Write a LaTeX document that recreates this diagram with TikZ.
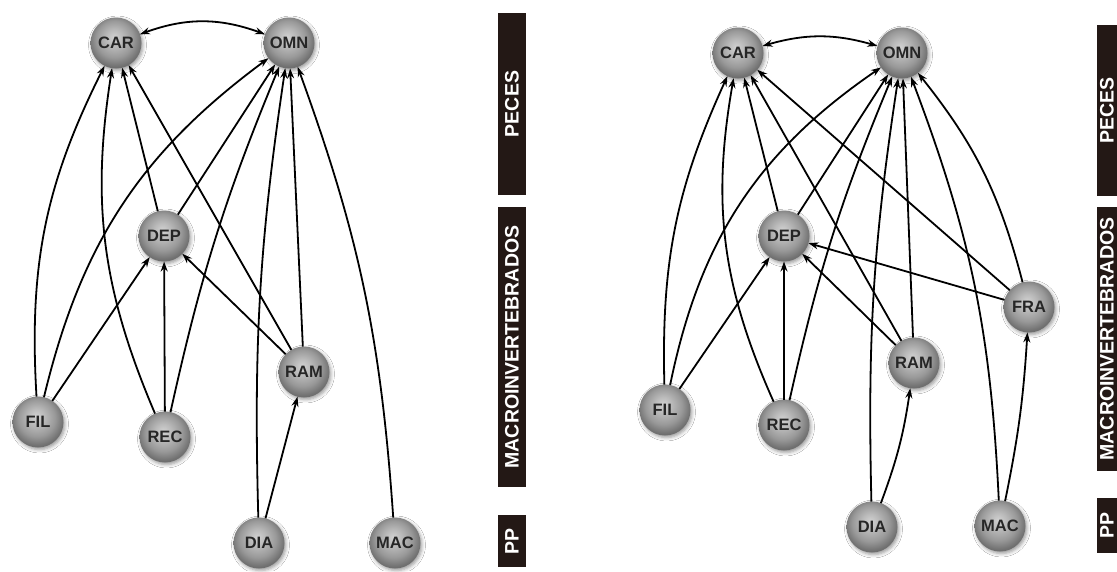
\documentclass[tikz,border=0pt]{standalone}
\usepackage{fontspec}
\setmainfont{Liberation Sans}
\usetikzlibrary{arrows.meta,shadows.blur}
\pgfdeclareradialshading{greyball}{\pgfqpoint{-2bp}{6bp}}{%
  color(0bp)=(black!18); color(8bp)=(black!27); color(18bp)=(black!40);
  color(26bp)=(black!56); color(33bp)=(black!62); color(50bp)=(black!62)}
\definecolor{barblack}{RGB}{35,24,21}
\tikzset{
  ball/.style={circle, minimum size=51pt, inner sep=0pt, outer sep=0pt,
    shading=greyball,
    blur shadow={shadow xshift=1.5pt, shadow yshift=-2pt, shadow blur radius=3.5pt, shadow opacity=40},
    font=\fontsize{16.5}{17}\selectfont\bfseries, text=black!85},
  arr/.style={-{Stealth[length=10pt,width=7pt]}, line width=1.8pt, black},
  biarr/.style={{Stealth[length=10pt,width=7pt]}-{Stealth[length=10pt,width=7pt]}, line width=1.8pt, black},
  bar/.style={rectangle, fill=barblack, text=white, rotate=90, inner sep=0pt,
    font=\fontsize{19.5}{20}\selectfont\bfseries}
}
\begin{document}
\begin{tikzpicture}[x=1pt,y=1pt]
\useasboundingbox[fill=white] (0,0) rectangle (1117,-571);

% ---------- left panel ----------
\node[ball] (car1) at (116,-43) {CAR};
\node[ball] (omn1) at (289,-43) {OMN};
\node[ball] (dep1) at (164,-236) {DEP};
\node[ball] (fil1) at (38,-422) {FIL};
\node[ball] (rec1) at (165,-437) {REC};
\node[ball] (ram1) at (304,-372) {RAM};
\node[ball] (dia1) at (259,-543) {DIA};
\node[ball] (mac1) at (395,-543) {MAC};

\draw[biarr] (car1) to[bend left=20] (omn1);
\draw[arr] (fil1) to[bend left=15] (car1);
\draw[arr] (fil1) to[bend left=20] (omn1);
\draw[arr] (fil1) -- (dep1);
\draw[arr] (rec1) to[bend left=16] (car1);
\draw[arr] (rec1) -- (dep1);
\draw[arr] (rec1) to[bend left=5] (omn1);
\draw[arr] (dep1) -- (car1);
\draw[arr] (dep1) -- (omn1);
\draw[arr] (ram1) -- (car1);
\draw[arr] (ram1) -- (dep1);
\draw[arr] (ram1) -- (omn1);
\draw[arr] (dia1) to[bend left=5] (omn1);
\draw[arr] (dia1) -- (ram1);
\draw[arr] (mac1) to[bend right=8] (omn1);

\node[bar, minimum width=182pt, minimum height=28pt] (peces1) at (512,-104) {PECES};
\node[bar, minimum width=280pt, minimum height=28pt] (macro1) at (512,-347) {MACROINVERTEBRADOS};
\node[bar, minimum width=52pt, minimum height=28pt] (pp1) at (512,-541) {PP};

% ---------- right panel ----------
\node[ball] (car2) at (738,-53) {CAR};
\node[ball] (omn2) at (902,-53) {OMN};
\node[ball] (dep2) at (784,-236) {DEP};
\node[ball] (fil2) at (665,-410) {FIL};
\node[ball] (rec2) at (784,-425) {REC};
\node[ball] (ram2) at (914,-363) {RAM};
\node[ball] (fra2) at (1029,-307) {FRA};
\node[ball] (dia2) at (872,-527) {DIA};
\node[ball] (mac2) at (1000,-526) {MAC};

\draw[biarr] (car2) to[bend left=16] (omn2);
\draw[arr] (fil2) to[bend left=13] (car2);
\draw[arr] (fil2) to[bend left=22] (omn2);
\draw[arr] (fil2) -- (dep2);
\draw[arr] (rec2) to[bend left=17] (car2);
\draw[arr] (rec2) -- (dep2);
\draw[arr] (rec2) to[bend left=5] (omn2);
\draw[arr] (dep2) -- (car2);
\draw[arr] (dep2) -- (omn2);
\draw[arr] (ram2) -- (car2);
\draw[arr] (ram2) -- (dep2);
\draw[arr] (ram2) -- (omn2);
\draw[arr] (fra2) -- (car2);
\draw[arr] (fra2) -- (dep2);
\draw[arr] (fra2) to[bend right=12] (omn2);
\draw[arr] (dia2) to[bend left=5] (omn2);
\draw[arr] (dia2) to[bend right=6] (ram2);
\draw[arr] (mac2) to[bend right=9] (omn2);
\draw[arr] (mac2) to[bend right=4] (fra2);

\node[bar, minimum width=171pt, minimum height=20pt] (peces2) at (1107,-110.5) {PECES};
\node[bar, minimum width=264pt, minimum height=20pt] (macro2) at (1107,-339) {MACROINVERTEBRADOS};
\node[bar, minimum width=55pt, minimum height=20pt] (pp2) at (1107,-525.5) {PP};
\end{tikzpicture}
\end{document}
